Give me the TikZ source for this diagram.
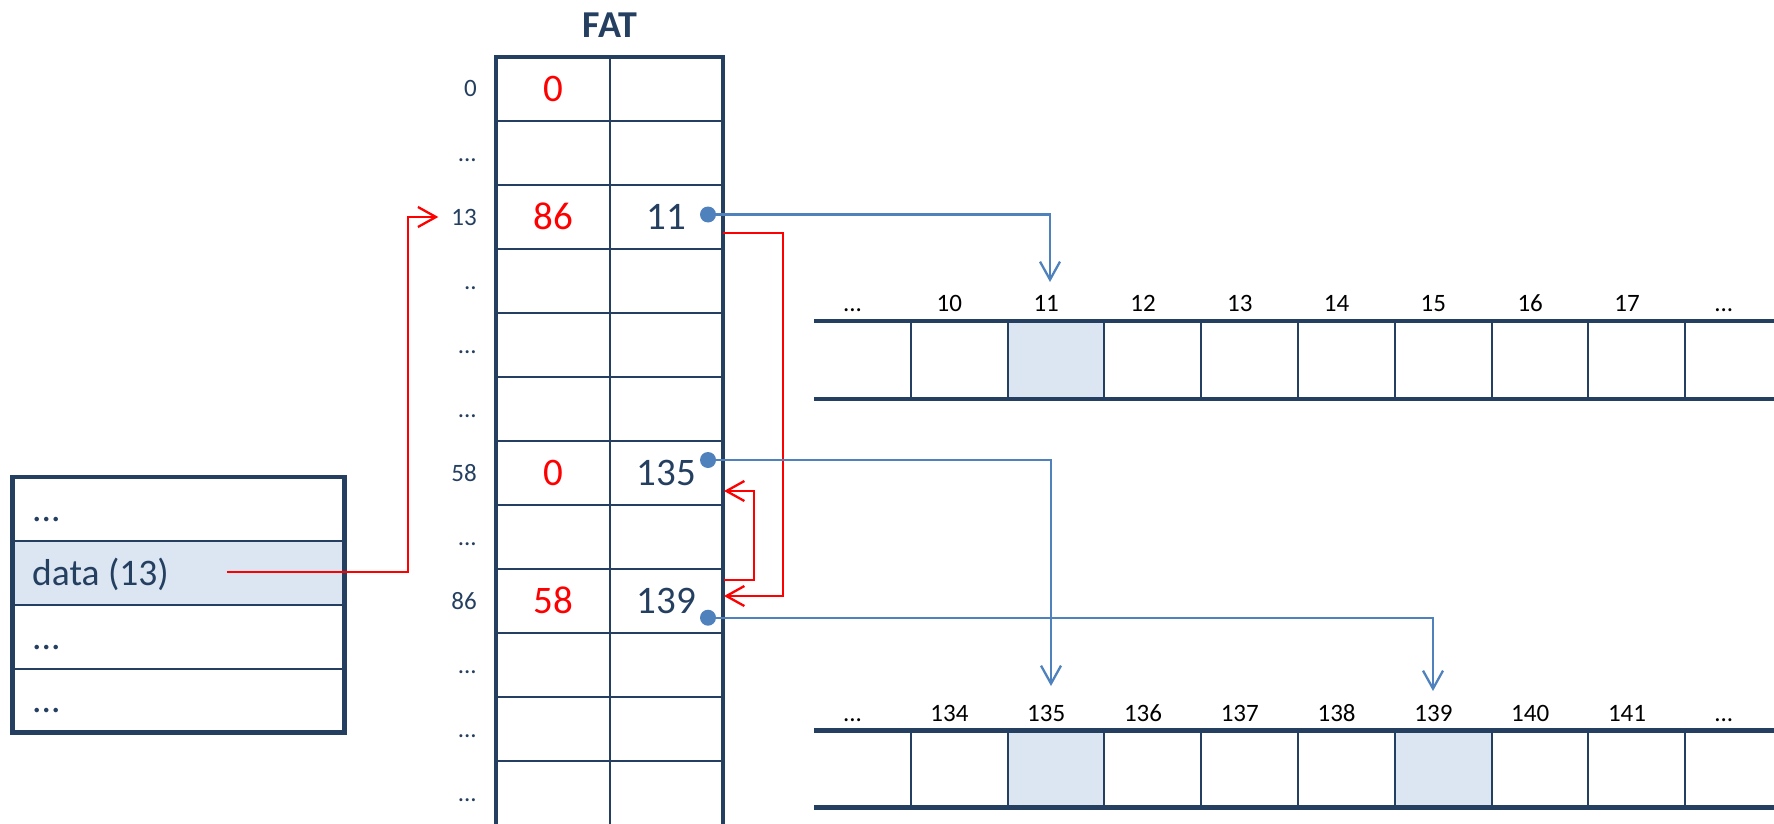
\documentclass[tikz,border=0pt]{standalone}
\usepackage{fontspec}
\setmainfont{Carlito}
\usetikzlibrary{arrows.meta}
\definecolor{navy}{HTML}{243F60}
\definecolor{lblue}{HTML}{4F81BD}
\definecolor{hfill}{HTML}{DCE6F2}
\begin{document}
\begin{tikzpicture}[x=1pt,y=-1pt,
  outerline/.style={draw=navy,line width=4.5pt,line join=miter},
  innerline/.style={draw=navy,line width=2pt},
  rowlab/.style={anchor=base east,text=navy,font=\fontsize{25}{28}\selectfont,inner sep=0pt},
  cellnum/.style={anchor=base,font=\fontsize{39}{44}\selectfont,inner sep=0pt},
  boxtext/.style={anchor=base west,text=navy,font=\fontsize{37.5}{42}\selectfont,inner sep=0pt},
  striplab/.style={anchor=base,text=black,font=\fontsize{25}{28}\selectfont,inner sep=0pt},
  redarrow/.style={draw=red,line width=2.3pt,-{Straight Barb[length=18pt,width=20pt]}},
  bluearrow/.style={draw=lblue,line width=2.3pt,-{Straight Barb[length=18pt,width=20pt]}},
  bluedot/.style={circle,fill=lblue,inner sep=0pt,minimum size=16pt}
]
\useasboundingbox (0,0) rectangle (1774,824);

% ---------- left box ----------
\fill[hfill] (12.5,540.7) rectangle (344.7,605);
\foreach \yy in {540.7,605,669} \draw[innerline] (12.5,\yy) -- (344.7,\yy);
\draw[outerline] (12.5,477) rectangle (344.7,732.4);
\node[boxtext] (b1) at (32,521) {...};
\node[boxtext] (b2) at (32,585.5) {data (13)};
\node[boxtext] (b3) at (32,649) {...};
\node[boxtext] (b4) at (32,712) {...};

% ---------- FAT table ----------
\node[font=\bfseries\fontsize{38}{42}\selectfont,text=navy] (title) at (610,25) {FAT};
\foreach \i in {1,...,12} \draw[innerline] (496,{57+64*\i}) -- (723,{57+64*\i});
\draw[innerline] (610,57) -- (610,830);
\draw[outerline] (496,830) -- (496,57) -- (723,57) -- (723,830);

\node[rowlab] (r0)  at (477,97)  {0};
\node[rowlab] (r1)  at (477,161) {...};
\node[rowlab] (r2)  at (477,225) {13};
\node[rowlab] (r3)  at (477,289) {..};
\node[rowlab] (r4)  at (477,353) {...};
\node[rowlab] (r5)  at (477,417) {...};
\node[rowlab] (r6)  at (477,481) {58};
\node[rowlab] (r7)  at (477,545) {...};
\node[rowlab] (r8)  at (477,609) {86};
\node[rowlab] (r9)  at (477,673) {...};
\node[rowlab] (r10) at (477,737) {...};
\node[rowlab] (r11) at (477,801) {...};

\node[cellnum,text=red]  (c0l) at (553,101.5)   {0};
\node[cellnum,text=red]  (c2l) at (553,229.5)   {86};
\node[cellnum,text=navy] (c2r) at (666.5,229.5) {11};
\node[cellnum,text=red]  (c6l) at (553,485.5)   {0};
\node[cellnum,text=navy] (c6r) at (666.5,485.5) {135};
\node[cellnum,text=red]  (c8l) at (553,613.5)   {58};
\node[cellnum,text=navy] (c8r) at (666.5,613.5) {139};

% ---------- strips ----------
\fill[hfill] (1007.5,321) rectangle (1104.3,399);
\fill[hfill] (1007.5,730.5) rectangle (1104.3,807.7);
\fill[hfill] (1394.7,730.5) rectangle (1491.5,807.7);
\foreach \k in {0,...,8} {
  \draw[innerline] ({910.7+96.8*\k},321) -- ({910.7+96.8*\k},399);
  \draw[innerline] ({910.7+96.8*\k},730.5) -- ({910.7+96.8*\k},807.7);
}
\draw[outerline] (814,321) -- (1780,321);
\draw[outerline] (814,399) -- (1780,399);
\draw[outerline] (814,730.5) -- (1780,730.5);
\draw[outerline] (814,807.7) -- (1780,807.7);

\node[striplab] (ta) at (852.6,311) {...};
\foreach \n [count=\k] in {10,...,17} \node[striplab] (t\n) at ({852.6+96.8*\k},311) {\n};
\node[striplab] (tb) at ({852.6+96.8*9},311) {...};
\node[striplab] (la) at (852.6,721) {...};
\foreach \n [count=\k] in {134,...,141} \node[striplab] (l\n) at ({852.6+96.8*\k},721) {\n};
\node[striplab] (lb) at ({852.6+96.8*9},721) {...};

% ---------- connectors ----------
\coordinate (ds) at (226.7,572);
\coordinate (rb) at (408.3,217);
\coordinate (rt) at (438.3,217);
\draw[redarrow] (ds) -| (rb) -- (rt);

\coordinate (a1) at (723,233);
\coordinate (e1) at (724,596);
\draw[redarrow] (a1) -- ++(60.3,0) |- (e1);
\coordinate (a2) at (724,580);
\coordinate (e2) at (724,491);
\draw[redarrow] (a2) -- ++(30.3,0) |- (e2);

\coordinate (p11) at (708,214.5);
\coordinate (p135) at (708,460);
\coordinate (p139) at (708,617.7);
\coordinate (tip11) at (1050,282);
\coordinate (tip135) at (1051,686);
\coordinate (tip139) at (1433,691);
\draw[bluearrow] (p11) -| (tip11);
\draw[bluearrow] (p135) -| (tip135);
\draw[bluearrow] (p139) -| (tip139);
\node[bluedot] (d11) at (p11) {};
\node[bluedot] (d135) at (p135) {};
\node[bluedot] (d139) at (p139) {};
\end{tikzpicture}
\end{document}
